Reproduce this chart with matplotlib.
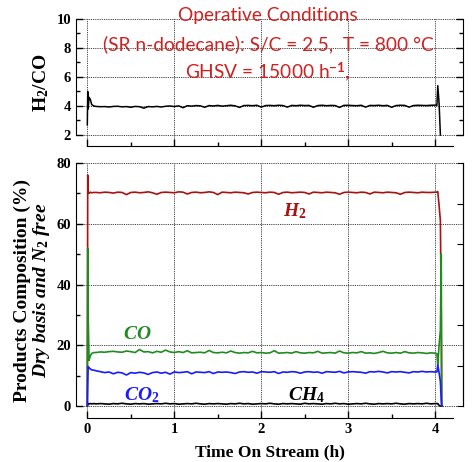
import numpy as np
import matplotlib
matplotlib.use('Agg')
import matplotlib.pyplot as plt
from matplotlib.ticker import MultipleLocator

plt.rcParams['font.family'] = ['Liberation Serif']
plt.rcParams['font.weight'] = 'bold'
plt.rcParams['mathtext.fontset'] = 'custom'
plt.rcParams['mathtext.rm'] = 'Liberation Serif:bold'
plt.rcParams['mathtext.it'] = 'Liberation Serif:bold:italic'
plt.rcParams['mathtext.bf'] = 'Liberation Serif:bold'
plt.rcParams['mathtext.sf'] = 'Lato'

# time on stream (h): start-up, steady sampling, shut-down
t_head = [0.0, 0.005, 0.01, 0.02, 0.035, 0.05, 0.075]
t_steady = list(np.round(np.arange(0.10, 4.001, 0.05), 3))
t_tail = [4.02, 4.03, 4.045, 4.06, 4.07, 4.075, 4.08]
time_h = np.array(t_head + t_steady + t_tail)

h2 = [0.0, 76.0, 70.5, 70.0, 70.4, 70.2, 70.3] + [
    70.3, 70.2, 70.4, 70.3, 70.1, 70.4, 70.3, 69.6, 70.3, 70.4,
    70.2, 70.3, 70.5, 70.2, 69.7, 70.3, 70.4, 70.3, 70.2, 70.5,
    70.4, 69.8, 70.3, 70.4, 70.2, 70.3, 70.5, 70.3, 69.6, 70.4,
    70.3, 70.2, 70.4, 70.3, 70.2, 69.8, 70.3, 70.4, 70.3, 70.2,
    70.4, 70.3, 69.7, 70.3, 70.4, 70.2, 70.3, 70.4, 70.3, 69.8,
    70.4, 70.3, 70.2, 70.4, 70.3, 70.2, 69.7, 70.3, 70.4, 70.3,
    70.2, 70.4, 70.3, 69.8, 70.4, 70.3, 70.2, 70.4, 70.3, 70.2,
    69.7, 70.3, 70.4, 70.3, 70.2, 70.4, 70.3, 70.3, 70.4] + \
    [70.4, 70.6, 66.0, 61.0, 30.0, 0.0, 0.0]

co = [0.0, 52.0, 30.0, 15.0, 16.5, 17.3, 17.6] + [
    17.6, 17.8, 17.7, 17.9, 18.0, 17.8, 17.7, 18.1, 17.9, 17.6,
    18.6, 17.8, 17.9, 17.5, 18.0, 17.7, 18.4, 17.8, 17.6, 17.9,
    17.6, 18.2, 17.5, 17.6, 17.7, 17.5, 18.3, 17.6, 17.5, 17.7,
    17.5, 18.1, 17.6, 17.4, 17.6, 17.5, 18.0, 17.5, 17.6, 17.4,
    17.5, 18.2, 17.4, 17.5, 17.6, 17.4, 17.9, 17.5, 17.4, 17.6,
    17.5, 18.0, 17.4, 17.5, 17.6, 17.4, 18.1, 17.5, 17.4, 17.6,
    17.5, 17.9, 17.4, 17.5, 17.3, 17.6, 18.0, 17.5, 17.4, 17.6,
    17.4, 17.9, 17.5, 17.4, 17.6, 17.5, 17.3, 17.5, 17.4] + \
    [17.2, 13.5, 20.0, 25.0, 50.0, 0.0, 0.0]

co2 = [0.0, 8.0, 13.0, 12.6, 12.2, 11.9, 11.8] + [
    11.6, 11.3, 11.0, 11.2, 10.6, 11.1, 10.9, 10.2, 11.0, 10.8,
    11.1, 10.9, 10.4, 11.0, 11.2, 10.8, 11.1, 10.5, 11.2, 11.0,
    11.1, 11.3, 10.6, 11.2, 11.1, 11.0, 11.3, 10.7, 11.2, 11.1,
    11.2, 11.0, 10.7, 11.2, 11.3, 11.1, 11.2, 10.8, 11.3, 11.2,
    11.1, 11.3, 10.7, 11.2, 11.1, 11.3, 11.2, 10.8, 11.2, 11.3,
    11.1, 11.2, 10.8, 11.3, 11.2, 11.1, 11.4, 10.9, 11.2, 11.3,
    11.2, 11.1, 10.8, 11.3, 11.2, 11.4, 11.2, 10.9, 11.3, 11.2,
    11.3, 11.1, 10.9, 11.3, 11.2, 11.4, 11.2, 11.3, 11.2] + \
    [11.2, 13.5, 11.0, 8.0, 2.0, 0.0, 0.0]

ch4 = [0.0, 0.5, 0.8, 0.7, 0.8, 0.7, 0.8] + [
    0.7, 0.8, 0.7, 0.6, 0.8, 0.7, 0.9, 0.7, 0.6, 0.8,
    0.7, 0.8, 0.6, 0.7, 0.8, 0.7, 0.9, 0.7, 0.8, 0.6,
    0.7, 0.8, 0.7, 0.9, 0.7, 0.6, 0.8, 0.7, 0.8, 0.7,
    0.6, 0.8, 0.7, 0.9, 0.7, 0.8, 0.6, 0.7, 0.8, 0.7,
    0.9, 0.7, 0.6, 0.8, 0.7, 0.8, 0.7, 0.6, 0.9, 0.7,
    0.8, 0.7, 0.6, 0.8, 0.7, 0.9, 0.7, 0.8, 0.6, 0.7,
    0.8, 0.7, 0.9, 0.7, 0.6, 0.8, 0.7, 0.8, 0.7, 0.9,
    0.7, 0.6, 0.8, 0.7, 0.8, 0.7, 0.9, 0.7, 0.8] + \
    [0.8, 0.8, 0.2, 0.0, 0.0, 0.0, 0.0]

h2_co = [2.7, 5.0, 3.8, 4.6, 4.45, 4.1, 4.0] + [
    3.97, 3.95, 3.96, 3.93, 3.97, 3.98, 3.94, 3.96, 3.91, 3.97,
    3.95, 3.85, 3.96, 3.94, 3.97, 3.93, 3.98, 4.00, 3.96, 4.01,
    3.88, 4.02, 3.99, 4.03, 4.01, 3.91, 4.03, 4.00, 4.04, 3.99,
    4.02, 4.05, 4.01, 3.90, 4.03, 4.04, 4.02, 4.05, 3.92, 4.03,
    4.04, 4.02, 4.05, 4.03, 3.92, 4.04, 4.02, 4.05, 4.03, 4.04,
    3.91, 4.03, 4.05, 4.02, 4.04, 4.03, 3.90, 4.04, 4.05, 4.03,
    4.02, 4.05, 3.92, 4.04, 4.03, 4.05, 4.02, 4.04, 3.91, 4.03,
    4.05, 4.04, 3.92, 4.03, 4.05, 4.04, 4.03, 4.05, 4.06] + \
    [4.05, 5.4, 4.2, 2.0, np.nan, np.nan, np.nan]

conditions = ["Operative Conditions",
              "(SR n-dodecane): S/C = 2.5,  T = 800 \u00b0C",
              r"GHSV = 15000 h$^{\mathsf{-1}}$,"]

fig = plt.figure(figsize=(4.72, 4.62), dpi=100)
W, H = 472, 462
left, right = 76 / W, 463 / W
ax1 = fig.add_axes([left, (H - 146) / H, right - left, (146 - 19) / H])
ax2 = fig.add_axes([left, (H - 418) / H, right - left, (418 - 163) / H])

for ax in (ax1, ax2):
    ax.set_xlim(-0.13, 4.32)
    ax.spines['top'].set_visible(False)
    ax.spines['bottom'].set_bounds(0, 4.2)
    ax.xaxis.set_major_locator(MultipleLocator(1))
    ax.xaxis.set_minor_locator(MultipleLocator(0.5))
    ax.tick_params(which='major', length=5, width=1, direction='in', labelsize=10.5)
    ax.tick_params(which='minor', length=3, width=1, direction='in')
    ax.grid(True, which='major', color='black', linestyle=(0, (1, 1.2)), linewidth=0.6)
    ax.set_axisbelow(True)

# top panel
ax1.plot(time_h, h2_co, color='black', lw=1.1)
ax1.set_ylim(1.24, 10)
ax1.spines['left'].set_bounds(2, 10)
ax1.spines['right'].set_bounds(2, 10)
ax1.yaxis.set_major_locator(MultipleLocator(2))
ax1.yaxis.set_minor_locator(MultipleLocator(1))
ax1.tick_params(axis='y', which='both', right=True)
ax1.tick_params(axis='x', labelbottom=False)
ax1.set_ylabel(r"H$_2$/CO", fontsize=14, fontweight='bold', labelpad=4)

# bottom panel
ax2.plot(time_h, ch4, color='black', lw=1.2)
ax2.plot(time_h, h2, color='#aa1111', lw=1.2)
ax2.plot(time_h, co, color='#1e8c1e', lw=1.2)
ax2.plot(time_h, co2, color='#1a1aff', lw=1.2)
ax2.set_ylim(-3.95, 80)
ax2.spines['left'].set_bounds(0, 80)
ax2.spines['right'].set_bounds(0, 80)
ax2.yaxis.set_major_locator(MultipleLocator(20))
ax2.yaxis.set_minor_locator(MultipleLocator(10))
ax2.set_ylabel("Products Composition (%)\n" + r"$Dry\ basis\ and\ N_2\ free$",
               fontsize=14, fontweight='bold', labelpad=3, linespacing=1.05)
ax2.set_xlabel("Time On Stream (h)", fontsize=12.5, fontweight='bold', labelpad=6)

for ax in (ax1, ax2):
    for lab in ax.get_xticklabels() + ax.get_yticklabels():
        lab.set_fontweight('bold')

axr = ax2.twinx()
axr.set_ylim(ax2.get_ylim())
axr.set_yticks(np.linspace(0, 80, 7))
axr.tick_params(axis='y', direction='in', length=4, labelright=False)
for s in ('top', 'left', 'bottom'):
    axr.spines[s].set_visible(False)
axr.spines['right'].set_bounds(0, 80)

ax2.text(2.39, 62.5, r"$H_2$", color='#aa1111', fontsize=14, ha='center')
ax2.text(0.58, 22.0, r"$CO$", color='#1e8c1e', fontsize=14, ha='center')
ax2.text(0.62, 2.0, r"$CO_2$", color='#1a1aff', fontsize=14, ha='center')
ax2.text(2.52, 2.0, r"$CH_4$", color='black', fontsize=14, ha='center')

for i, line in enumerate(conditions):
    fig.text(268 / W, 1 - (16 + i * 28) / H, line, color='#cc2222', fontsize=13.8,
             family='Lato', fontweight='normal', ha='center', va='center')

fig.savefig('out.png', dpi=100)
